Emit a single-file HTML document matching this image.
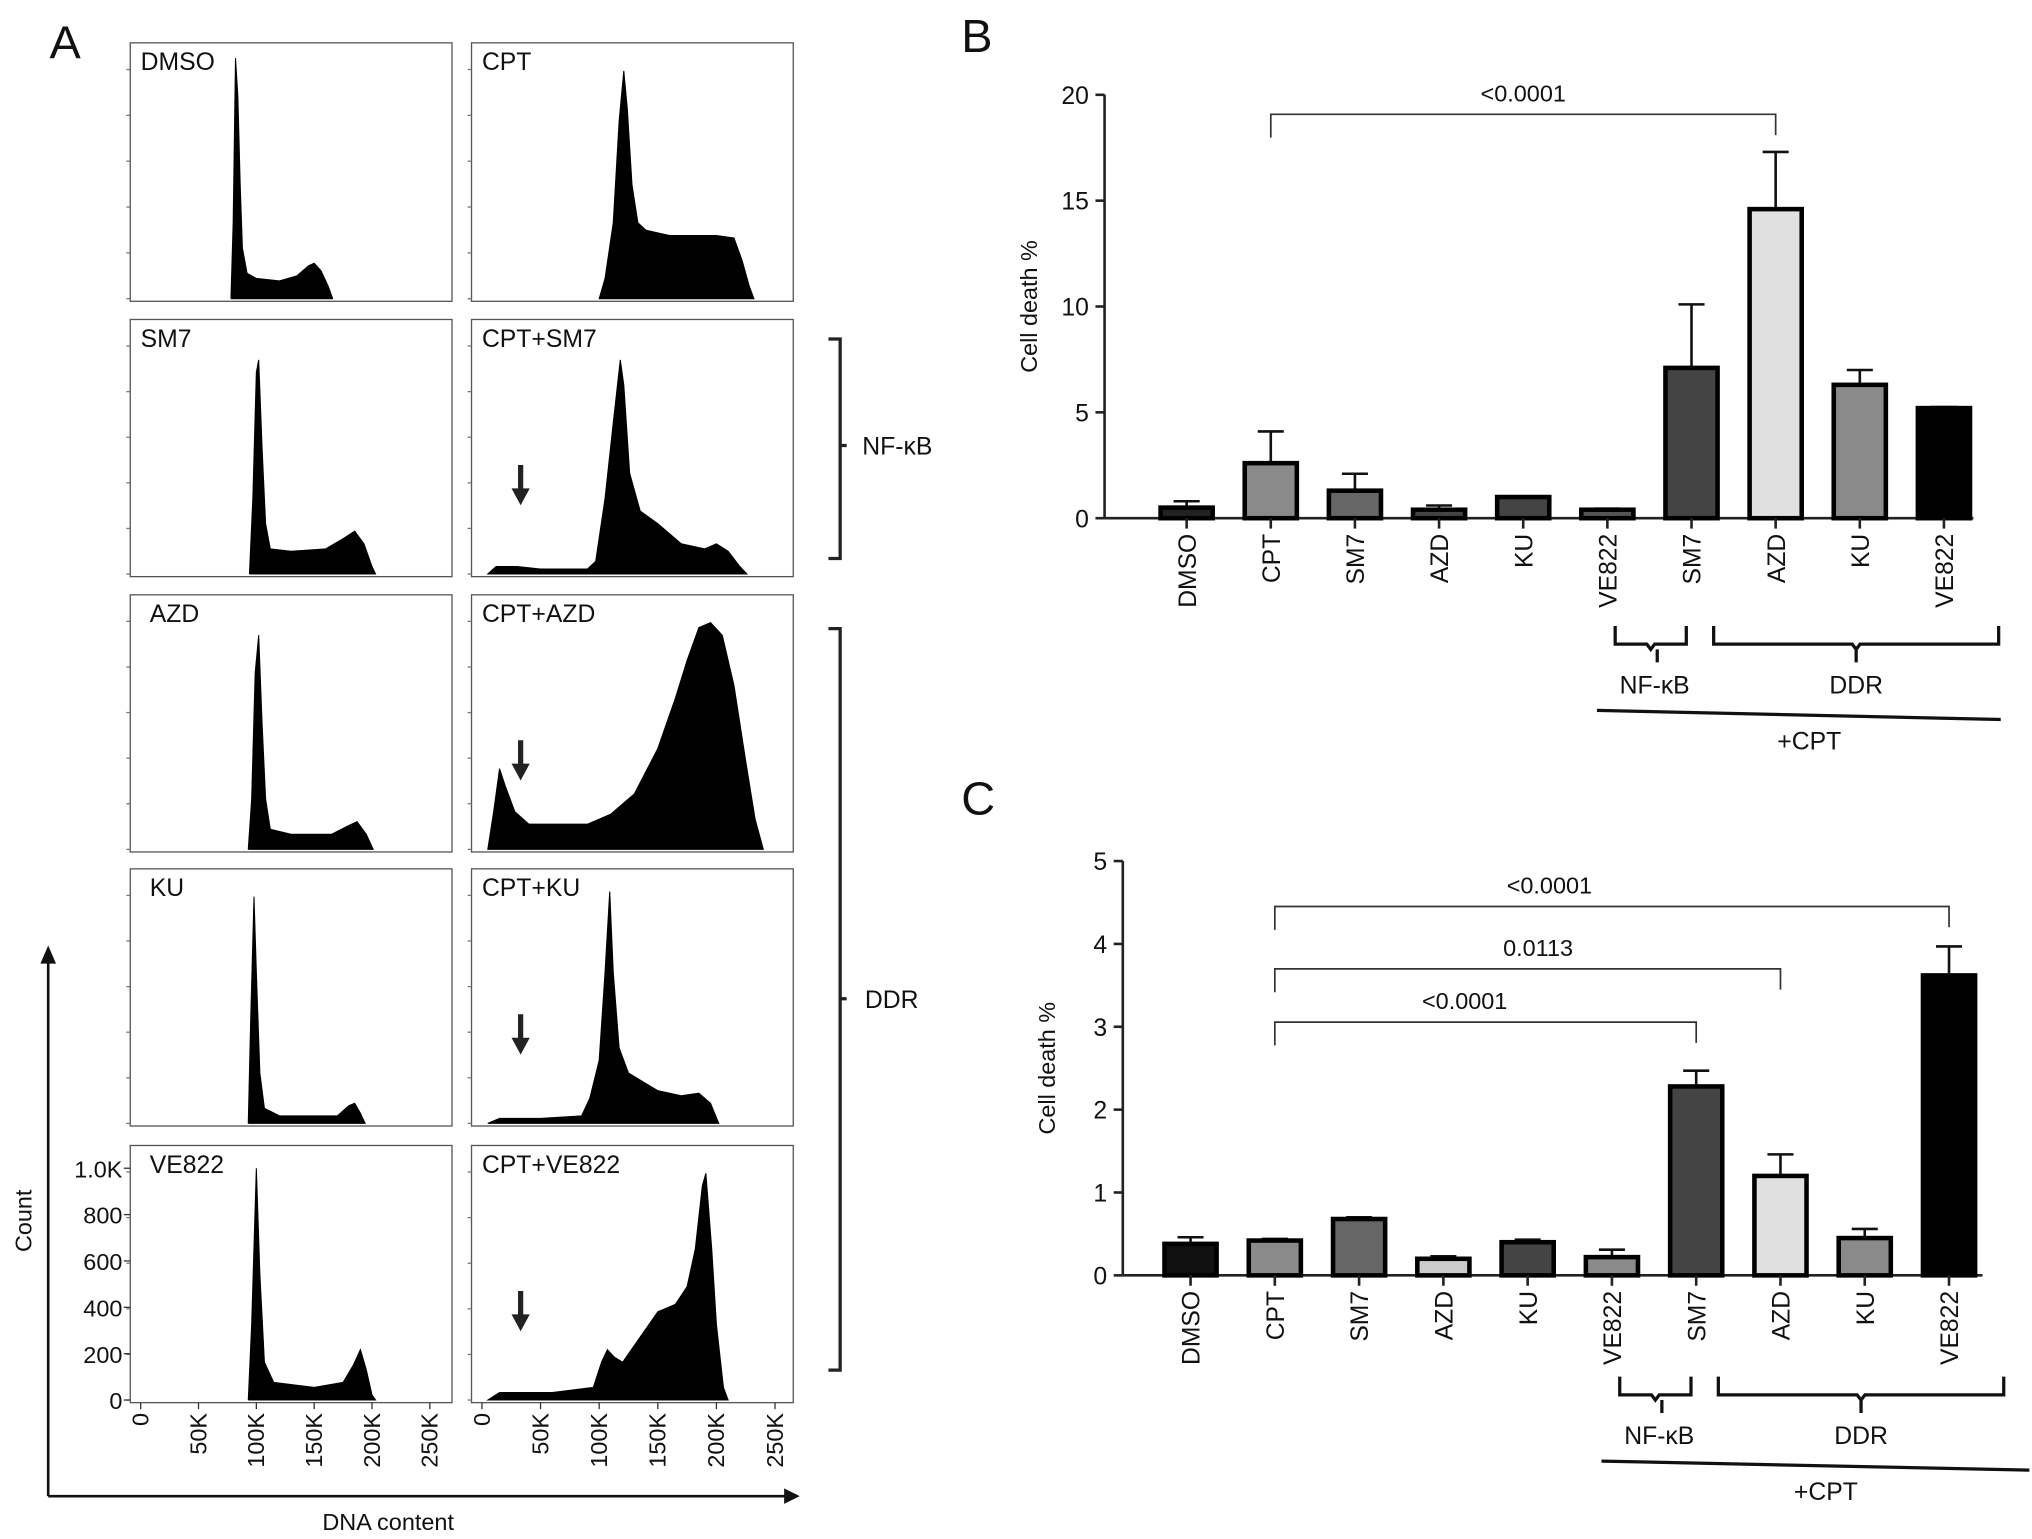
<!DOCTYPE html>
<html><head><meta charset="utf-8"><style>
html,body{margin:0;padding:0;background:#fff}
svg{display:block}
text{font-family:"Liberation Sans",sans-serif;fill:#111}
</style></head><body>
<svg id="fig" width="2032" height="1539" viewBox="0 0 1560 1185" preserveAspectRatio="none" xmlns="http://www.w3.org/2000/svg">
<g id="A"></g>
<g id="B"></g>
<g id="C"></g>
</svg>
<script>
const NS='http://www.w3.org/2000/svg';
function mk(p,tag,at,txt){const e=document.createElementNS(NS,tag);for(const k in at)e.setAttribute(k,at[k]);if(txt!==undefined)e.textContent=txt;p.appendChild(e);return e;}

// ---------- Panel A data ----------
const histNames=['DMSO','CPT','SM7','CPT+SM7','AZD','CPT+AZD','KU','CPT+KU','VE822','CPT+VE822'];
const hDMSO=[[78,0],[80,0.3],[82,0.95],[84,0.8],[86,0.45],[88,0.2],[92,0.1],[100,0.08],[120,0.07],[135,0.09],[145,0.13],[150,0.14],[156,0.11],[162,0.05],[166,0]];
const hCPT=[[100,0],[105,0.08],[112,0.3],[117,0.7],[121,0.9],[124,0.75],[128,0.45],[133,0.3],[140,0.27],[160,0.25],[180,0.25],[200,0.25],[215,0.24],[222,0.15],[228,0.05],[232,0]];
const hSM7=[[94,0],[97,0.3],[100,0.8],[102,0.85],[105,0.5],[108,0.2],[112,0.1],[130,0.09],[160,0.1],[175,0.14],[185,0.17],[193,0.12],[200,0.03],[203,0]];
const hCPTSM7=[[5,0],[12,0.03],[30,0.03],[50,0.02],[90,0.02],[97,0.05],[105,0.3],[112,0.6],[118,0.85],[121,0.75],[126,0.4],[135,0.25],[150,0.2],[170,0.12],[190,0.1],[200,0.12],[210,0.09],[220,0.03],[226,0]];
const hAZD=[[93,0],[96,0.2],[99,0.7],[102,0.85],[105,0.5],[108,0.2],[112,0.08],[130,0.06],[165,0.06],[178,0.09],[187,0.11],[195,0.06],[201,0]];
const hCPTAZD=[[5,0],[10,0.15],[15,0.32],[20,0.25],[28,0.15],[40,0.1],[60,0.1],[90,0.1],[110,0.14],[130,0.22],[150,0.4],[165,0.6],[175,0.75],[185,0.88],[195,0.9],[205,0.85],[215,0.65],[225,0.35],[233,0.12],[240,0]];
const hKU=[[93,0],[95,0.4],[98,0.9],[100,0.6],[103,0.2],[107,0.06],[120,0.03],[170,0.03],[180,0.07],[185,0.08],[190,0.04],[194,0]];
const hCPTKU=[[5,0],[15,0.02],[50,0.02],[85,0.03],[92,0.1],[100,0.25],[105,0.6],[109,0.92],[112,0.6],[117,0.3],[125,0.2],[150,0.13],[170,0.11],[185,0.12],[195,0.08],[202,0]];
const hVE822=[[93,0],[96,0.3],[100,0.92],[103,0.5],[107,0.15],[115,0.07],[150,0.05],[175,0.07],[184,0.14],[190,0.2],[195,0.12],[200,0.02],[203,0]];
const hCPTVE822=[[5,0],[15,0.03],[60,0.03],[95,0.05],[102,0.15],[107,0.2],[113,0.17],[120,0.15],[135,0.25],[150,0.35],[165,0.38],[175,0.45],[182,0.6],[188,0.85],[191,0.9],[196,0.6],[200,0.3],[206,0.05],[210,0]];
const histData=[hDMSO,hCPT,hSM7,hCPTSM7,hAZD,hCPTAZD,hKU,hCPTKU,hVE822,hCPTVE822];
const xTickLabels=['0','50K','100K','150K','200K','250K'];
const xTickVals=[0,50,100,150,200,250];
const yTickLabels=['0','200','400','600','800','1.0K'];
const yTickVals=[0,200,400,600,800,1000];
const arrowPanels=[3,5,7,9];

const A=document.getElementById('A');
const cols=[{x:100,w:247,x0:108,k:0.888},{x:362,w:247,x0:370,k:0.9}];
const rows=[{y:33,h:199},{y:246,h:198},{y:458,h:198},{y:669,h:198},{y:882,h:198}];
histData.forEach((d,i)=>{
  const c=cols[i%2], r=rows[Math.floor(i/2)];
  const g=mk(A,'g',{});
  
  
  const base=r.y+r.h-2, H=(r.h-4);
  const sx=k=>c.x0+k*c.k, sy=f=>base-f*H;
  let p='M'+sx(d[0][0])+','+base;
  d.forEach(q=>{p+=' L'+sx(q[0]).toFixed(1)+','+sy(q[1]).toFixed(1);});
  p+=' L'+sx(d[d.length-1][0])+','+base+' Z';
  const fill=mk(g,'path',{d:p,fill:'#000',stroke:'#000','stroke-width':0.8});
  
  
  const fr=mk(g,'rect',{x:c.x,y:r.y,width:c.w,height:r.h,fill:'none',stroke:'#555','stroke-width':1});
  
  
  for(let t=0;t<6;t++){const yy=base-t*H*0.181;mk(g,'line',{x1:c.x-3,x2:c.x,y1:yy,y2:yy,stroke:'#777','stroke-width':1});}
  const lb=mk(g,'text',{x:c.x+(i%2==0&&i>=4?15:8),y:r.y+21,'font-size':19},histNames[i]);
  
  
  if(arrowPanels.includes(i)){
    const ax=c.x0+33*c.k, ay=base-54;
    const ar=mk(g,'path',{d:`M${ax-2},${ay-30} h4 v18 h5 l-7,13 l-7,-13 h5 z`,fill:'#222'});
    
    
  }
  if(i==8){
    yTickVals.forEach((v,j)=>{const yy=base-v/1000*0.92*H;mk(g,'line',{x1:c.x-5,x2:c.x,y1:yy,y2:yy,stroke:'#333'});
      const t=mk(g,'text',{x:c.x-6,y:yy+7,'font-size':18,'text-anchor':'end'},yTickLabels[j]);
      });
  }
  if(i>=8){
    xTickVals.forEach((v,j)=>{const xx=sx(v);mk(g,'line',{x1:xx,x2:xx,y1:r.y+r.h,y2:r.y+r.h+5,stroke:'#333'});
      const t=mk(g,'text',{x:0,y:0,'font-size':18,'text-anchor':'end',transform:`translate(${xx+6},${r.y+r.h+8}) rotate(-90)`},xTickLabels[j]);
      });
  }
});
// axis arrows
mk(A,'path',{d:'M37,1152 L37,740 M37,1152 L604,1152',stroke:'#111','stroke-width':2,fill:'none'});
mk(A,'path',{d:'M31,742 L37,728 L43,742 Z M602,1146 L614,1152 L602,1158 Z',fill:'#111'});
let t=mk(A,'text',{x:0,y:0,'font-size':18,'text-anchor':'middle',transform:'translate(24,940) rotate(-90)'},'Count');

t=mk(A,'text',{x:298,y:1178,'font-size':18,'text-anchor':'middle'},'DNA content');

t=mk(A,'text',{x:38,y:45,'font-size':36},'A');

// right brackets
mk(A,'path',{d:'M636,261 h9 v169 h-9 M645,343 h5',stroke:'#222','stroke-width':2.5,fill:'none'});
mk(A,'path',{d:'M636,484 h9 v571 h-9 M645,769 h5',stroke:'#222','stroke-width':2.5,fill:'none'});
t=mk(A,'text',{x:662,y:350,'font-size':19},'NF-κB');
t=mk(A,'text',{x:664,y:776,'font-size':19},'DDR');

// ---------- Bar charts ----------
const barCats=['DMSO','CPT','SM7','AZD','KU','VE822','SM7','AZD','KU','VE822'];
const bValues=[0.5,2.6,1.3,0.4,1.0,0.4,7.1,14.6,6.3,5.2];
const bErrTop=[0.8,4.1,2.1,0.6,1.0,0.45,10.1,17.3,7.0,5.25];
const bTicks=[0,5,10,15,20];
const cValues=[0.38,0.42,0.68,0.2,0.4,0.22,2.28,1.2,0.45,3.62];
const cErrTop=[0.46,0.44,0.7,0.23,0.43,0.31,2.47,1.46,0.56,3.97];
const cTicks=[0,1,2,3,4,5];
const bColors=['#222','#8a8a8a','#666','#444','#444','#555','#444','#e0e0e0','#8a8a8a','#000'];
const cColors=['#111','#8a8a8a','#666','#ccc','#444','#8a8a8a','#444','#e0e0e0','#8a8a8a','#000'];
const bSig=[{from:1,to:7,label:'<0.0001'}];
const cSig=[{from:1,to:9,label:'<0.0001'},{from:1,to:7,label:'0.0113'},{from:1,to:6,label:'<0.0001'}];

function chart(G,o){
  const sy=v=>o.y0-(v/o.max)*(o.y0-o.yTop);
  const sx=i=>o.xc0+i*o.step;
  mk(G,'line',{x1:o.ax,x2:o.ax,y1:o.yTop,y2:o.y0,stroke:'#222','stroke-width':2});
  mk(G,'line',{x1:o.ax,x2:o.xEnd,y1:o.y0,y2:o.y0,stroke:'#222','stroke-width':2});
  o.ticks.forEach(v=>{mk(G,'line',{x1:o.ax-7,x2:o.ax,y1:sy(v),y2:sy(v),stroke:'#222','stroke-width':2});
    const tt=mk(G,'text',{x:o.ax-12,y:sy(v)+7,'font-size':19,'text-anchor':'end'},String(v));
    });
  let yt=mk(G,'text',{x:0,y:0,'font-size':18,'text-anchor':'middle',transform:`translate(${o.ax-52},${(o.yTop+o.y0)/2}) rotate(-90)`},'Cell death %');
  
  o.vals.forEach((v,i)=>{
    const x=sx(i), w=40;
    mk(G,'line',{x1:x,x2:x,y1:sy(v),y2:sy(o.err[i]),stroke:'#111','stroke-width':2});
    mk(G,'line',{x1:x-10,x2:x+10,y1:sy(o.err[i]),y2:sy(o.err[i]),stroke:'#111','stroke-width':2});
    const b=mk(G,'rect',{x:x-w/2,y:sy(v),width:w,height:o.y0-sy(v),fill:o.colors[i],stroke:'#000','stroke-width':3.5});
    
    
    mk(G,'line',{x1:x,x2:x,y1:o.y0,y2:o.y0+8,stroke:'#222','stroke-width':2});
    const l=mk(G,'text',{x:0,y:0,'font-size':19,'text-anchor':'end',transform:`translate(${x+7},${o.y0+12}) rotate(-90)`},barCats[i]);
    
  });
  o.sig.forEach((s,j)=>{
    const yy=o.sigY[j], x1=sx(s.from), x2=sx(s.to);
    const p=mk(G,'path',{d:`M${x1},${yy+18} V${yy} H${x2} V${yy+16}`,stroke:'#333','stroke-width':1.3,fill:'none'});
    
    const tt=mk(G,'text',{x:(x1+x2)/2-(s.to==9?48:s.to==7&&o.sig.length>1?-8:(s.to==6?16:0)),y:yy-10,'font-size':18,'text-anchor':'middle'},s.label);
    
  });
  // group brackets
  const by=o.brY;
  mk(G,'path',{d:`M${sx(5)+6},${by} v14 h${(sx(6)-sx(5))/2-8} l3,4 l3,-4 h${(sx(6)-sx(5))/2-8} v-14 M${(sx(5)+sx(6))/2+6},${by+18} v10`,stroke:'#111','stroke-width':2.5,fill:'none'});
  mk(G,'path',{d:`M${sx(6)+17},${by} v14 h${(sx(9)+42-sx(6)-17)/2-3} l3,4 l3,-4 h${(sx(9)+42-sx(6)-17)/2-3} v-14 M${(sx(6)+17+sx(9)+42)/2},${by+18} v10`,stroke:'#111','stroke-width':2.5,fill:'none'});
  let n=mk(G,'text',{x:(sx(5)+sx(6))/2+4,y:by+52,'font-size':19,'text-anchor':'middle'},'NF-κB');
  
  n=mk(G,'text',{x:(sx(6)+sx(9)+59)/2,y:by+52,'font-size':19,'text-anchor':'middle'},'DDR');
  
  mk(G,'line',{x1:sx(5)-8,y1:by+65,x2:o.lineEnd,y2:by+72,stroke:'#111','stroke-width':2.5});
  n=mk(G,'text',{x:(sx(5)+o.lineEnd)/2+4,y:by+95,'font-size':19,'text-anchor':'middle'},'+CPT');
  
}
chart(document.getElementById('B'),{ax:848,xEnd:1515,y0:399,yTop:73,max:20,xc0:911,step:64.6,ticks:bTicks,vals:bValues,err:bErrTop,colors:bColors,sig:bSig,sigY:[88],brY:482,lineEnd:1536});
chart(document.getElementById('C'),{ax:862,xEnd:1522,y0:982,yTop:663,max:5,xc0:914,step:64.7,ticks:cTicks,vals:cValues,err:cErrTop,colors:cColors,sig:cSig,sigY:[698,746,787],brY:1060,lineEnd:1558});
t=mk(document.getElementById('B'),'text',{x:738,y:40,'font-size':36},'B');
t=mk(document.getElementById('C'),'text',{x:738,y:627,'font-size':36},'C');
</script>
</body></html>
